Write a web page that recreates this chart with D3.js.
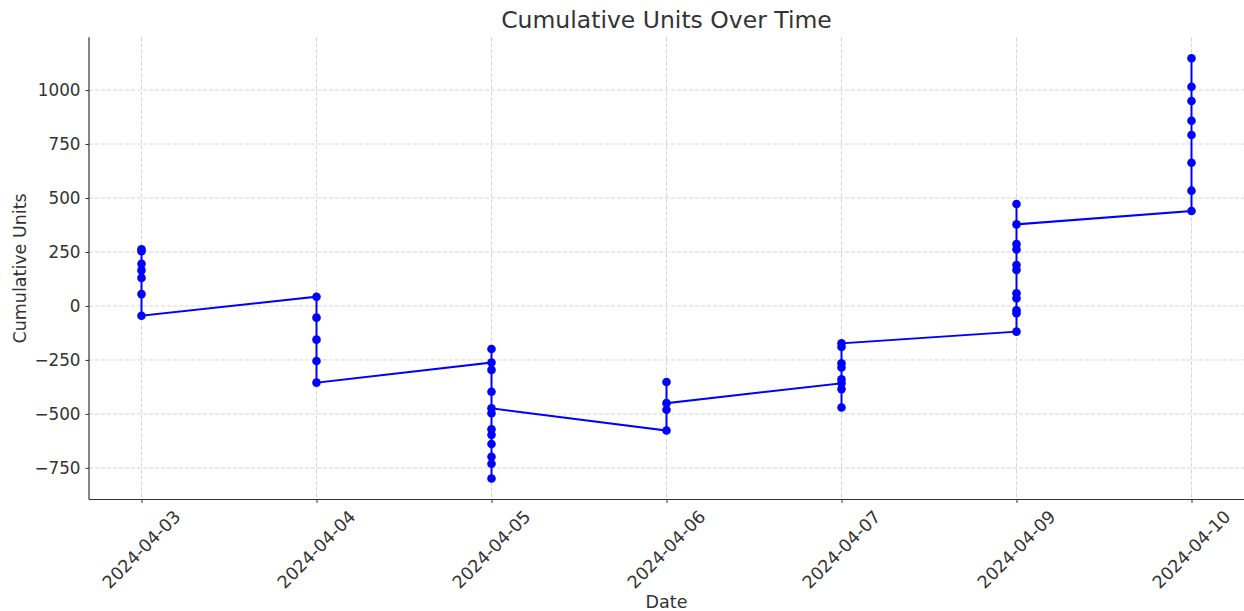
<!DOCTYPE html>
<html>
<head>
<meta charset="utf-8">
<script src="https://cdn.jsdelivr.net/npm/d3@7"></script>
<style>
body { margin: 0; background: #fff; }
text { font-family: "DejaVu Sans", sans-serif; fill: #333; }
</style>
</head>
<body>
<script>
// categories on the x axis (04-08 has no rows, so it is skipped)
var dates = ["2024-04-03", "2024-04-04", "2024-04-05", "2024-04-06", "2024-04-07", "2024-04-09", "2024-04-10"];

// one entry per point, in drawing order
var pointDates = [
	"2024-04-03","2024-04-03","2024-04-03","2024-04-03","2024-04-03","2024-04-03","2024-04-03",
	"2024-04-04","2024-04-04","2024-04-04","2024-04-04","2024-04-04",
	"2024-04-05","2024-04-05","2024-04-05","2024-04-05","2024-04-05","2024-04-05",
	"2024-04-05","2024-04-05","2024-04-05","2024-04-05","2024-04-05","2024-04-05",
	"2024-04-06","2024-04-06","2024-04-06","2024-04-06",
	"2024-04-07","2024-04-07","2024-04-07","2024-04-07","2024-04-07","2024-04-07","2024-04-07","2024-04-07",
	"2024-04-09","2024-04-09","2024-04-09","2024-04-09","2024-04-09","2024-04-09",
	"2024-04-09","2024-04-09","2024-04-09","2024-04-09","2024-04-09",
	"2024-04-10","2024-04-10","2024-04-10","2024-04-10","2024-04-10","2024-04-10","2024-04-10","2024-04-10"
];
var cumulativeUnits = [
	262, 254, 195, 165, 130, 55, -45,
	43, -54, -156, -255, -355,
	-262, -199, -296, -397, -571, -597,
	-639, -698, -731, -799, -497, -474,
	-577, -352, -481, -450,
	-358, -470, -385, -340, -285, -265, -190, -173,
	-119, -34, -20, 36, 59, 167,
	190, 262, 287, 472, 378,
	440, 534, 663, 792, 858, 949, 1015, 1147
];
var yTicks = [-750, -500, -250, 0, 250, 500, 750, 1000];

var width = 1244, height = 611;
var mLeft = 89, mRight = 1244, mTop = 37.3, mBottom = 499.5;

var svg = d3.select("body").append("svg")
	.attr("width", width)
	.attr("height", height);

var points = [];
for (var i = 0; i < cumulativeUnits.length; i++) {
	points.push({date: pointDates[i], value: cumulativeUnits[i]});
}

var x = d3.scalePoint()
	.domain(dates)
	.range([mLeft, mRight])
	.padding(0.3);

// 5% margin like matplotlib
var yMin = d3.min(cumulativeUnits), yMax = d3.max(cumulativeUnits);
var pad = (yMax - yMin) * 0.05;
var y = d3.scaleLinear()
	.domain([yMin - pad, yMax + pad])
	.range([mBottom, mTop]);

// grid
svg.append("g").selectAll("line")
	.data(dates)
	.enter()
	.append("line")
	.attr("x1", d => x(d)).attr("x2", d => x(d))
	.attr("y1", mTop).attr("y2", mBottom)
	.attr("stroke", "#cccccc")
	.attr("stroke-width", 0.8)
	.attr("stroke-dasharray", "4,2");

svg.append("g").selectAll("line")
	.data(yTicks)
	.enter()
	.append("line")
	.attr("x1", mLeft).attr("x2", mRight)
	.attr("y1", d => y(d)).attr("y2", d => y(d))
	.attr("stroke", "#cccccc")
	.attr("stroke-width", 0.8)
	.attr("stroke-dasharray", "4,2");

// axes
var yAxis = svg.append("g")
	.attr("transform", "translate(" + mLeft + ",0)")
	.call(d3.axisLeft(y).tickValues(yTicks).tickSize(3.5).tickPadding(5).tickFormat(d3.format("d")));
yAxis.select(".domain").attr("d", "M0," + mTop + "V" + mBottom).attr("stroke", "#333").attr("stroke-width", 1.2);
yAxis.selectAll(".tick line").attr("stroke", "#333");
yAxis.selectAll(".tick text").style("font-size", "16.8px").style("fill", "#333").style("font-family", "DejaVu Sans");

var xAxis = svg.append("g")
	.attr("transform", "translate(0," + mBottom + ")")
	.call(d3.axisBottom(x).tickSize(3.5).tickFormat(""));
xAxis.select(".domain").attr("d", "M" + mLeft + ",0H" + mRight).attr("stroke", "#333").attr("stroke-width", 1.2);
xAxis.selectAll(".tick line").attr("stroke", "#333");

svg.append("g").selectAll("text")
	.data(dates)
	.enter()
	.append("text")
	.attr("transform", d => "translate(" + x(d) + "," + (mBottom + 50) + ") rotate(-45)")
	.attr("text-anchor", "middle")
	.attr("dominant-baseline", "central")
	.style("font-size", "17.5px")
	.text(d => d);

// line + markers
var line = d3.line()
	.x(d => x(d.date))
	.y(d => y(d.value));

svg.append("path")
	.datum(points)
	.attr("d", line)
	.attr("fill", "none")
	.attr("stroke", "#0000ff")
	.attr("stroke-width", 2);

svg.selectAll("circle")
	.data(points)
	.enter()
	.append("circle")
	.attr("cx", d => x(d.date))
	.attr("cy", d => y(d.value))
	.attr("r", 4.3)
	.attr("fill", "#0000ff");

// labels
svg.append("text")
	.attr("x", (mLeft + mRight) / 2)
	.attr("y", 28)
	.attr("text-anchor", "middle")
	.style("font-size", "23.5px")
	.text("Cumulative Units Over Time");

svg.append("text")
	.attr("x", x("2024-04-06"))
	.attr("y", 608)
	.attr("text-anchor", "middle")
	.style("font-size", "17.5px")
	.text("Date");

svg.append("text")
	.attr("transform", "translate(26," + ((mTop + mBottom) / 2) + ") rotate(-90)")
	.attr("text-anchor", "middle")
	.style("font-size", "17.5px")
	.text("Cumulative Units");
</script>
</body>
</html>
